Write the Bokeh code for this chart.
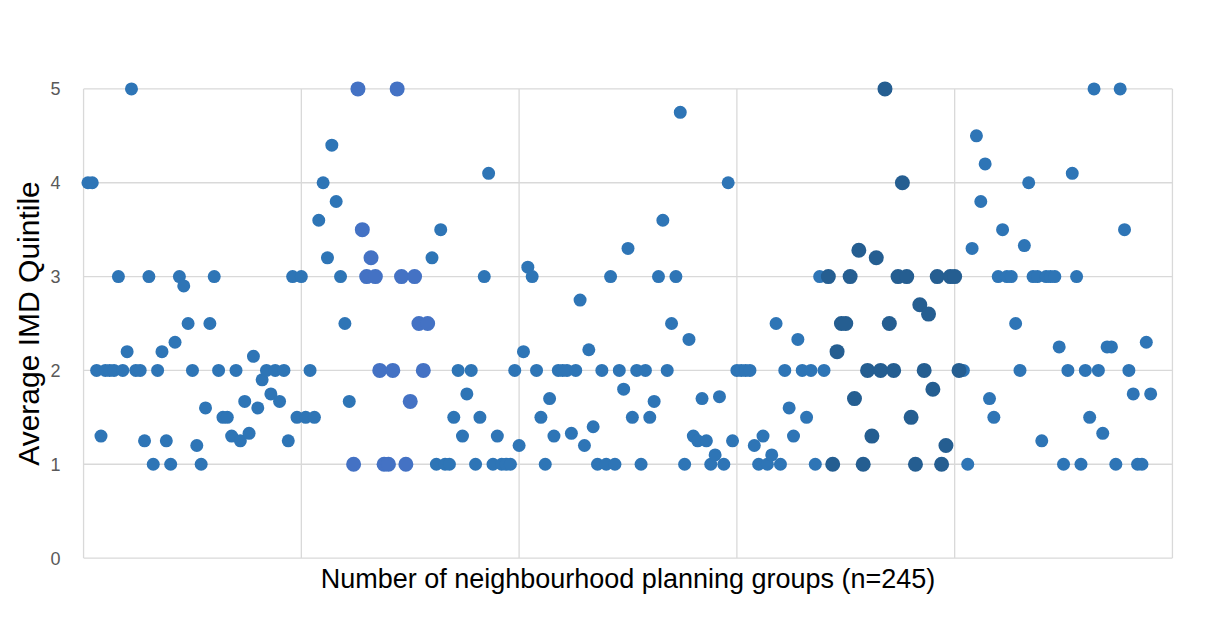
from bokeh.plotting import figure
from bokeh.models import FixedTicker, Range1d
from bokeh.embed import file_html
from bokeh.resources import INLINE

# ---- data (index of group, average IMD quintile) ----
blue_a_x = list(range(1, 62))
blue_a_y = [4, 4, 2, 1.3, 2, 2, 2, 3, 2, 2.2, 5, 2, 2, 1.25, 3, 1, 2, 2.2, 1.25, 1,
            2.3, 3, 2.9, 2.5, 2, 1.2, 1, 1.6, 2.5, 3, 2, 1.5, 1.5, 1.3, 2, 1.25, 1.67, 1.33, 2.15, 1.6,
            1.9, 2, 1.75, 2, 1.67, 2, 1.25, 3, 1.5, 3, 1.5, 2, 1.5, 3.6, 4, 3.2, 4.4, 3.8, 3, 2.5,
            1.67]

light_x = list(range(62, 80))
light_y = [1, 5, 3.5, 3, 3.2, 3, 2, 1, 1, 2, 5, 3, 1, 1.67, 3, 2.5, 2, 2.5]

blue_b_x = list(range(80, 171))
blue_b_y = [3.2, 1, 3.5, 1, 1, 1.5, 2, 1.3, 1.75, 2,
            1, 1.5, 3, 4.1, 1, 1.3, 1, 1, 1, 2,
            1.2, 2.2, 3.1, 3, 2, 1.5, 1, 1.7, 1.3, 2,
            2, 2, 1.33, 2, 2.75, 1.2, 2.22, 1.4, 1, 2,
            1, 3, 1, 2, 1.8, 3.3, 1.5, 2, 1, 2,
            1.5, 1.67, 3, 3.6, 2, 2.5, 3, 4.75, 1, 2.33,
            1.3, 1.25, 1.7, 1.25, 1, 1.1, 1.72, 1, 4, 1.25,
            2, 2, 2, 2, 1.2, 1, 1.3, 1, 1.1, 2.5,
            1, 2, 1.6, 1.3, 2.33, 2, 1.5, 2, 1, 3,
            2]

dark_x = list(range(171, 202))
dark_y = [3, 1, 2.2, 2.5, 2.5, 3, 1.7, 3.28, 1, 2,
          1.3, 3.2, 2, 5, 2.5, 2, 3, 4, 3, 1.5,
          1, 2.7, 2, 2.6, 1.8, 3, 1, 1.2, 3, 3,
          2]

blue_c_x = list(range(202, 246))
blue_c_y = [2, 1, 3.3, 4.5, 3.8, 4.2, 1.7, 1.5, 3, 3.5,
            3, 3, 2.5, 2, 3.33, 4, 3, 3, 1.25, 3,
            3, 3, 2.25, 1, 2, 4.1, 3, 1, 2, 1.5,
            5, 2, 1.33, 2.25, 2.25, 1, 5, 3.5, 2, 1.75,
            1, 1, 2.3, 1.75]

y_ticks = [0, 1, 2, 3, 4, 5]
x_grid = [0, 50, 100, 150, 200, 250]

GRID = "#D9D9D9"
FONT = "Liberation Sans"

p = figure(width=1189, height=607, output_backend="svg", toolbar_location=None,
           x_range=Range1d(-3, 253), y_range=Range1d(-0.1, 5.1),
           min_border_left=70, min_border_right=4, min_border_top=79, min_border_bottom=40)
p.outline_line_color = None
p.xgrid.visible = False
p.ygrid.visible = False
p.background_fill_color = "white"
p.border_fill_color = "white"

# plot-area grid box
p.segment(x0=[x_grid[0]] * len(y_ticks), x1=[x_grid[-1]] * len(y_ticks), y0=y_ticks, y1=y_ticks,
          line_color=GRID, line_width=1.3)
p.segment(x0=x_grid, x1=x_grid, y0=[y_ticks[0]] * len(x_grid), y1=[y_ticks[-1]] * len(x_grid),
          line_color=GRID, line_width=1.3)

p.scatter(blue_a_x, blue_a_y, size=13, color="#2E75B6", line_color=None)
p.scatter(blue_b_x, blue_b_y, size=13, color="#2E75B6", line_color=None)
p.scatter(blue_c_x, blue_c_y, size=13, color="#2E75B6", line_color=None)
p.scatter(light_x, light_y, size=15, color="#4472C4", line_color=None)
p.scatter(dark_x, dark_y, size=15, color="#255E91", line_color=None)

ya = p.yaxis[0]
ya.ticker = FixedTicker(ticks=y_ticks)
ya.minor_tick_line_color = None
ya.major_tick_line_color = None
ya.major_tick_out = 0
ya.axis_line_color = None
ya.major_label_standoff = 10
ya.major_label_text_color = "#595959"
ya.major_label_text_font = FONT
ya.major_label_text_font_size = "18px"
ya.axis_label = "Average IMD Quintile"
ya.axis_label_text_font = FONT
ya.axis_label_text_font_size = "30px"
ya.axis_label_text_font_style = "normal"
ya.axis_label_text_color = "black"
ya.axis_label_standoff = 2

xa = p.xaxis[0]
xa.ticker = FixedTicker(ticks=[])
xa.minor_tick_line_color = None
xa.major_tick_line_color = None
xa.major_tick_out = 0
xa.minor_tick_out = 0
xa.axis_line_color = None
xa.axis_label = "Number of neighbourhood planning groups (n=245)"
xa.axis_label_text_font = FONT
xa.axis_label_text_font_size = "27px"
xa.axis_label_text_font_style = "normal"
xa.axis_label_text_color = "black"
xa.axis_label_standoff = -4

open("out.html", "w").write(file_html(p, INLINE))
